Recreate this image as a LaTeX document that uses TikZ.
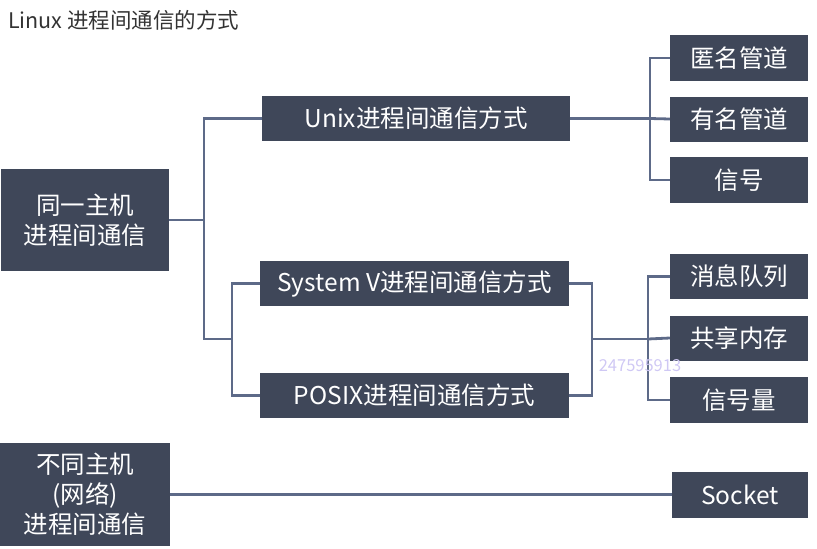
\documentclass[tikz,border=0pt]{standalone}
\usepackage{fontspec}
\setmainfont{Noto Sans CJK SC}
\begin{document}
\begin{tikzpicture}[x=1pt,y=-1pt,
  box/.style={fill=boxfill,draw=none,text=white,inner sep=0pt,align=center,
    font=\fontsize{24.5}{30}\selectfont},
  link/.style={draw=linkcol,line width=2.8pt}]
\definecolor{boxfill}{HTML}{3F4759}
\definecolor{linkcol}{HTML}{5D6A88}
\definecolor{titlecol}{HTML}{333333}
\definecolor{markcol}{HTML}{CFC8F4}
\useasboundingbox (0,0) rectangle (817,549);

% title
\node[anchor=west,text=titlecol,inner sep=0pt,font=\fontsize{21.5}{24}\selectfont]
  (title) at (8,20) {Linux 进程间通信的方式};

% left column
\node[box,minimum width=168pt,minimum height=102pt] (same) at (85,220) {同一主机\\进程间通信};
\node[box,minimum width=170pt,minimum height=103pt] (diff) at (85,494.5) {不同主机\\(网络)\\进程间通信};

% middle column
\node[box,minimum width=308pt,minimum height=45pt] (unix)  at (416,118.5) {Unix进程间通信方式};
\node[box,minimum width=309pt,minimum height=45pt] (sysv)  at (414.5,283.5) {System V进程间通信方式};
\node[box,minimum width=309pt,minimum height=45pt] (posix) at (414.5,395.5) {POSIX进程间通信方式};

% right column
\node[box,minimum width=138pt,minimum height=46pt] (anon)  at (739,58)    {匿名管道};
\node[box,minimum width=138pt,minimum height=45pt] (named) at (739,119)   {有名管道};
\node[box,minimum width=138pt,minimum height=46pt] (sig)   at (739,180)   {信号};
\node[box,minimum width=138pt,minimum height=45pt] (mq)    at (739,276.5) {消息队列};
\node[box,minimum width=138pt,minimum height=45pt] (shm)   at (739,338)   {共享内存};
\node[box,minimum width=138pt,minimum height=46pt] (sem)   at (739,400)   {信号量};
\node[box,minimum width=136pt,minimum height=46pt] (sock)  at (740,495)   {Socket};

% junctions
\coordinate (jl) at (204,220);
\coordinate (jm) at (232,339);
\coordinate (jr) at (592,339);
\coordinate (jq) at (648,339);
\coordinate (ju) at (650,118.5);

% connectors
\draw[link] (same.east) -- (jl) |- (unix.west);
\draw[link] (jl) |- (jm);
\draw[link] (jm) |- (sysv.west);
\draw[link] (jm) |- (posix.west);
\draw[link] (sysv.east) -| (jr);
\draw[link] (posix.east) -| (jr);
\draw[link] (jr) -- (jq);
\draw[link] (jq) |- (mq.west);
\draw[link] (jq) |- (sem.west);
\draw[link] (jq) -- (shm.west);
\draw[link] (unix.east) -- (ju);
\draw[link] (ju) |- (anon.west);
\draw[link] (ju) |- (sig.west);
\draw[link] (ju) -- (named.west);
\draw[link] (diff.east) -- (diff.east -| sock.west);

% overlay mark
\node[text=markcol,inner sep=0pt,font=\fontsize{16.5}{18}\selectfont] (mark) at (640,366) {247595913};
\end{tikzpicture}
\end{document}
